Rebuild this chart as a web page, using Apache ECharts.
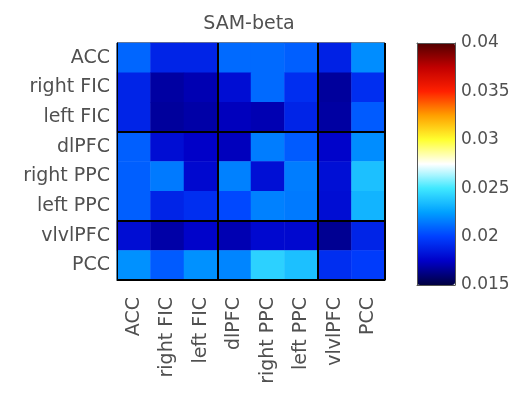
<!DOCTYPE html>
<html>
<head>
<meta charset="utf-8">
<script src="https://cdn.jsdelivr.net/npm/echarts@6/dist/echarts.min.js"></script>
<style>html,body{margin:0;padding:0;background:#fff;}#c{width:518px;height:395px;}</style>
</head>
<body>
<div id="c"></div>
<script>
var regions = ['ACC', 'right FIC', 'left FIC', 'dlPFC', 'right PPC', 'left PPC', 'vlvlPFC', 'PCC'];
var colorbarTicks = [0.015, 0.02, 0.025, 0.03, 0.035, 0.04];
// rows (top to bottom) x columns (left to right)
var row_ACC      = [0.0210, 0.0189, 0.0189, 0.0211, 0.0211, 0.0208, 0.0188, 0.0220];
var row_rightFIC = [0.0189, 0.0168, 0.0171, 0.0180, 0.0211, 0.0193, 0.0167, 0.0193];
var row_leftFIC  = [0.0189, 0.0167, 0.0169, 0.0173, 0.0171, 0.0189, 0.0168, 0.0207];
var row_dlPFC    = [0.0208, 0.0180, 0.0175, 0.0173, 0.0216, 0.0207, 0.0176, 0.0220];
var row_rightPPC = [0.0208, 0.0215, 0.0178, 0.0217, 0.0181, 0.0216, 0.0181, 0.0236];
var row_leftPPC  = [0.0208, 0.0189, 0.0193, 0.0202, 0.0217, 0.0215, 0.0180, 0.0232];
var row_vlPFC    = [0.0180, 0.0169, 0.0176, 0.0171, 0.0178, 0.0178, 0.0165, 0.0189];
var row_PCC      = [0.0221, 0.0207, 0.0221, 0.0218, 0.0242, 0.0236, 0.0193, 0.0198];
var rows = [row_ACC, row_rightFIC, row_leftFIC, row_dlPFC, row_rightPPC, row_leftPPC, row_vlPFC, row_PCC];
var cmap = ['#000040', '#0000c8', '#0040ff', '#00a0ff', '#40e8ff', '#ffffff', '#ffff30', '#ffa000', '#ff2000', '#c00000', '#500000'];

var data = [];
rows.forEach(function (r, i) {
  r.forEach(function (v, j) { data.push([j, i, v]); });
});

var font = 'DejaVu Sans, sans-serif';
var txt = '#505050';
var cbMin = colorbarTicks[0], cbMax = colorbarTicks[colorbarTicks.length - 1];
var chart = echarts.init(document.getElementById('c'));
chart.setOption({
  animation: false,
  title: {
    text: 'SAM-beta', left: 244, top: 10, textAlign: 'center',
    textStyle: {fontSize: 19, fontWeight: 'normal', color: txt, fontFamily: font}
  },
  grid: [
    {left: 117, top: 43, width: 268, height: 237, show: true, borderColor: '#000', borderWidth: 1, backgroundColor: 'transparent'},
    {left: 417, top: 43, width: 38, height: 242, show: false}
  ],
  xAxis: [
    {type: 'category', data: regions, gridIndex: 0, position: 'bottom', z: 5,
     axisLine: {show: true, lineStyle: {color: '#000'}}, axisTick: {show: false},
     axisLabel: {rotate: 90, fontSize: 19, color: txt, fontFamily: font, margin: 17},
     splitLine: {show: true, interval: function (i) { return i === 3 || i === 6; }, lineStyle: {color: '#000', width: 2}}},
    {type: 'value', gridIndex: 1, position: 'bottom', z: 10,
     axisLine: {show: true, onZero: false, lineStyle: {color: '#555'}}, axisTick: {show: false},
     axisLabel: {show: false}, splitLine: {show: false}},
    {type: 'value', gridIndex: 1, position: 'top', z: 10,
     axisLine: {show: true, onZero: false, lineStyle: {color: '#555'}}, axisTick: {show: false},
     axisLabel: {show: false}, splitLine: {show: false}}
  ],
  yAxis: [
    {type: 'category', data: regions, gridIndex: 0, inverse: true, z: 5,
     axisLine: {show: true, lineStyle: {color: '#000'}}, axisTick: {show: false},
     axisLabel: {fontSize: 19, color: txt, fontFamily: font, margin: 7},
     splitLine: {show: true, interval: function (i) { return i === 3 || i === 6; }, lineStyle: {color: '#000', width: 2}}},
    {type: 'value', gridIndex: 1, min: cbMin, max: cbMax, interval: 0.005,
     position: 'right', z: 10,
     axisLine: {show: true, onZero: false, lineStyle: {color: '#555'}},
     axisTick: {show: false},
     axisLabel: {fontSize: 17, color: txt, fontFamily: font, margin: 6},
     splitLine: {show: false}},
    {type: 'value', gridIndex: 1, min: cbMin, max: cbMax, interval: 0.005,
     position: 'left', z: 10,
     axisLine: {show: true, onZero: false, lineStyle: {color: '#555'}},
     axisTick: {show: false},
     axisLabel: {show: false}, splitLine: {show: false}}
  ],
  visualMap: {
    type: 'continuous', min: cbMin, max: cbMax,
    seriesIndex: 0, calculable: false, left: 417, top: 43, itemWidth: 38, itemHeight: 242,
    padding: 0, text: null, showLabel: false, inRange: {color: cmap}
  },
  series: [
    {type: 'heatmap', xAxisIndex: 0, yAxisIndex: 0, data: data, z: 2, emphasis: {disabled: true}}
  ]
});
</script>
</body>
</html>
